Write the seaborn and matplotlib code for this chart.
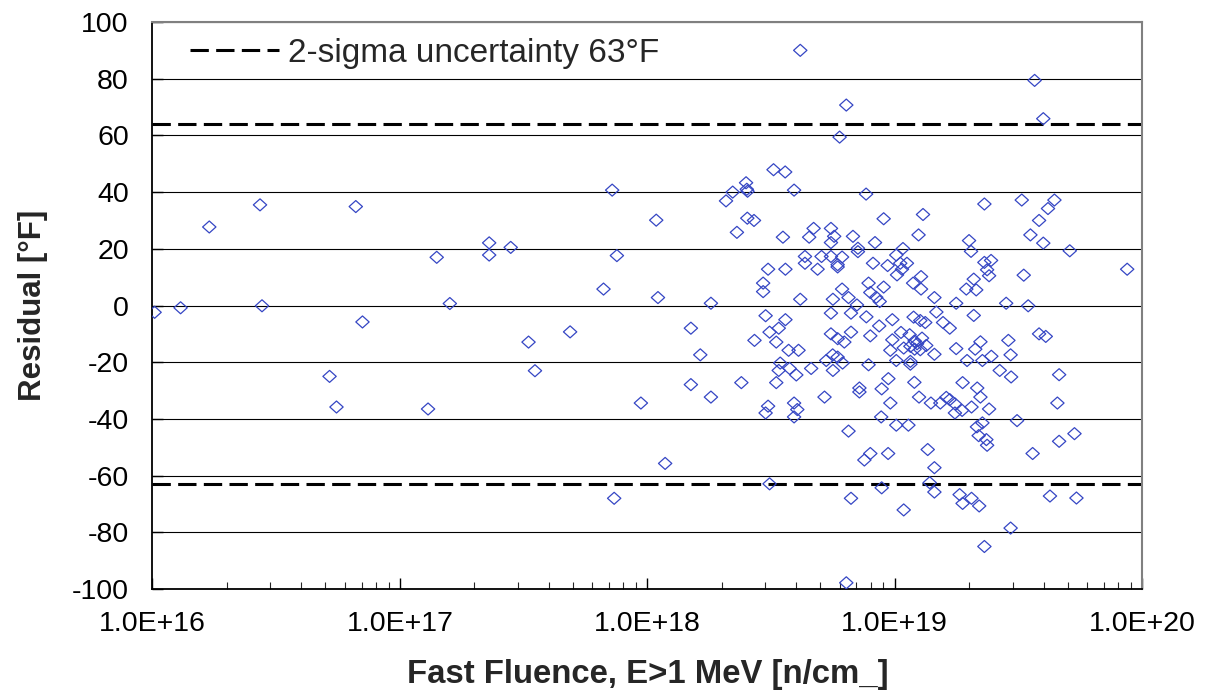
import numpy as np
import pandas as pd
import matplotlib
matplotlib.use("Agg")
import matplotlib.pyplot as plt
from matplotlib.path import Path
from matplotlib.markers import MarkerStyle
from matplotlib.ticker import FixedLocator, LogLocator, NullFormatter, FuncFormatter
from matplotlib.lines import Line2D
import seaborn as sns

# ---- data: log10 of fast fluence (n/cm^2) and residual (degF) ----
log10_fluence = [
    16.009, 16.114, 16.230, 16.435, 16.443, 16.822, 16.849, 16.716, 16.744, 17.149,
    17.202, 17.114, 17.361, 17.361, 17.448, 17.520, 17.546, 17.688, 17.823,
    18.618, 18.804, 18.777, 18.510, 18.557, 17.858, 18.593, 18.399, 18.345, 18.318,
    18.402, 18.405, 18.036, 18.404, 18.431, 18.362, 18.548, 18.672, 18.654, 18.742,
    18.755, 18.742, 18.831, 18.851, 18.851, 17.877, 18.488, 18.558, 18.637, 18.637,
    18.704, 18.688, 18.742, 18.787, 18.769, 18.769, 18.043, 18.257, 18.468, 18.468,
    18.618, 18.787, 18.750, 18.813, 18.847, 18.478, 18.558, 18.742, 18.823,
    18.176, 18.494, 18.531, 18.433, 18.521, 18.571, 18.611, 18.742, 18.823, 18.769,
    18.796, 18.214, 18.749, 18.769, 18.723, 18.789, 18.537, 18.531, 18.575, 18.602,
    18.662, 18.750, 18.176, 18.380, 18.521, 18.257, 17.974, 18.716, 18.857, 18.857,
    18.488, 18.478, 18.593, 18.606, 18.593, 18.813, 18.072, 18.494, 17.866, 18.823,
    18.804,
    19.565, 19.600, 18.884, 19.362, 19.513, 19.645, 19.619, 19.583, 18.955, 19.114,
    19.096, 18.920, 19.548, 19.600, 19.707, 19.300, 19.308, 19.033, 19.006, 18.912,
    18.971, 19.022, 19.049, 19.009, 19.029, 19.362, 19.389, 19.373, 19.381, 19.521,
    19.939, 18.894, 18.955, 18.901, 18.939, 18.925, 19.074, 19.106, 19.106, 19.160,
    19.248, 19.319, 19.289, 19.329, 19.450, 19.539, 18.885,
    18.990, 19.076, 19.103, 19.168, 19.195, 19.222, 19.123, 19.319, 18.937, 18.901,
    18.990, 19.025, 19.060, 19.080, 19.090, 19.110, 18.982, 19.036, 19.063, 19.080,
    19.103, 19.127, 19.160, 19.006, 19.063, 19.063, 18.894, 19.248, 19.292, 19.325,
    19.346, 19.354, 19.390, 19.459, 19.468, 19.583, 19.610, 19.424, 19.470, 19.664,
    18.974, 18.947, 19.079, 19.098, 18.982, 18.945, 19.006, 19.055, 19.146, 19.184,
    19.208, 19.222, 19.243, 19.243, 19.272, 19.274, 19.310, 19.333, 19.346, 19.381,
    19.494, 19.657, 19.332, 19.354, 19.339, 19.370, 19.373, 19.133, 19.160, 18.901,
    18.877, 18.973, 19.557, 19.664, 19.726, 18.947, 19.141, 19.160, 19.036, 19.262,
    19.274, 19.310, 19.341, 19.468, 19.362, 19.627, 19.734,
]
residual_F = [
    -2.4, -0.8, 27.7, 35.5, -0.1, 34.9, -5.8, -25.0, -35.8, 17.0,
    0.7, -36.5, 22.1, 17.8, 20.5, -12.9, -23.0, -9.3, 5.8,
    90.0, 70.7, 59.4, 47.9, 47.1, 40.7, 40.7, 43.3, 40.0, 36.9,
    41.0, 40.3, 30.1, 30.8, 30.0, 25.8, 24.1, 27.2, 24.1, 27.2,
    24.4, 22.2, 24.4, 20.2, 19.0, 17.6, 12.8, 12.8, 17.3, 14.9,
    17.3, 12.8, 17.3, 17.1, 14.4, 13.6, 2.8, 0.8, 7.9, 4.9,
    2.2, 5.8, 2.2, 2.8, 0.2, -3.6, -5.0, -2.7, -2.7,
    -8.0, -9.4, -8.0, -12.3, -12.9, -15.8, -15.8, -10.0, -9.4, -11.7,
    -12.9, -17.4, -17.4, -18.2, -19.4, -20.3, -20.3, -22.9, -22.2, -24.5,
    -22.2, -22.9, -27.9, -27.2, -27.2, -32.3, -34.4, -32.3, -29.1, -30.5,
    -35.5, -37.9, -34.4, -36.7, -39.3, -44.3, -55.7, -62.9, -68.0, -68.0,
    -97.8,
    79.4, 65.9, 39.3, 35.8, 37.2, 37.2, 34.2, 30.0, 30.6, 32.1,
    24.9, 22.2, 24.9, 22.0, 19.3, 22.9, 19.1, 20.1, 17.8, 14.9,
    14.1, 14.9, 14.9, 10.8, 12.8, 15.2, 15.9, 12.6, 10.5, 10.7,
    12.8, 7.9, 6.5, 4.6, 1.4, 2.9, 7.9, 10.2, 5.8, 2.8,
    0.8, 9.3, 5.8, 5.5, 0.8, -0.1, -4.0,
    -5.0, -4.1, -5.3, -2.3, -6.0, -8.0, -6.0, -3.5, -7.2, -10.7,
    -12.1, -9.5, -10.3, -12.5, -13.5, -11.5, -15.8, -15.0, -14.4, -15.4,
    -15.6, -14.1, -17.2, -19.4, -19.7, -20.7, -20.9, -15.2, -19.4, -15.4,
    -12.8, -19.4, -17.9, -12.3, -17.4, -10.0, -10.9, -22.9, -25.2, -24.4,
    -25.8, -29.4, -27.1, -32.3, -34.4, -39.3, -42.2, -42.2, -34.4, -34.4,
    -32.4, -33.2, -34.7, -37.9, -37.0, -27.2, -35.8, -29.1, -32.3, -36.5,
    -40.6, -34.4, -42.8, -41.4, -45.9, -47.3, -49.3, -50.8, -57.2, -52.2,
    -54.5, -52.2, -52.2, -47.9, -45.2, -64.3, -62.5, -65.8, -72.1, -66.7,
    -69.8, -68.0, -70.7, -78.5, -85.0, -67.2, -67.9,
]
upper_limit = 64.0
lower_limit = -63.0
legend_label = "2-sigma uncertainty 63°F"
x_ticks = [1e16, 1e17, 1e18, 1e19, 1e20]
x_tick_labels = ["1.0E+16", "1.0E+17", "1.0E+18", "1.0E+19", "1.0E+20"]
y_ticks = [-100, -80, -60, -40, -20, 0, 20, 40, 60, 80, 100]

df = pd.DataFrame({"fluence": 10 ** np.array(log10_fluence), "residual": residual_F})

# ---- style ----
sns.set_theme(style="white")
plt.rcParams["font.family"] = ["Liberation Sans", "DejaVu Sans"]
plt.rcParams["axes.unicode_minus"] = False

fig = plt.figure(figsize=(12.17, 6.96), dpi=100)
ax = fig.add_axes([0.1252, 0.1537, 0.8134, 0.8147])

ax.set_xscale("log")
ax.set_xlim(1e16, 1e20)
ax.set_ylim(-100, 100)

# horizontal gridlines
for yv in y_ticks:
    ax.axhline(yv, color="black", lw=0.8, zorder=1)

diamond = Path([(-1, 0), (0, 0.9), (1, 0), (0, -0.9), (-1, 0)], closed=True)
sns.scatterplot(data=df, x="fluence", y="residual", ax=ax,
                marker=MarkerStyle(diamond), s=92, facecolor="none",
                edgecolor="#3546C4", linewidth=0.9, zorder=3, legend=False)

dash_style = (0, (6, 2.4))
ax.axhline(upper_limit, color="black", lw=2.2, ls=dash_style, zorder=2)
ax.axhline(lower_limit, color="black", lw=2.2, ls=dash_style, zorder=2)

# ticks
ax.xaxis.set_major_locator(FixedLocator(x_ticks))
ax.xaxis.set_major_formatter(FuncFormatter(lambda v, p: x_tick_labels[x_ticks.index(v)] if v in x_ticks else ""))
ax.xaxis.set_minor_locator(LogLocator(base=10, subs=np.arange(2, 10)))
ax.xaxis.set_minor_formatter(NullFormatter())
ax.set_yticks(y_ticks)
ax.tick_params(axis="x", which="major", direction="in", length=8, width=1.0,
               labelsize=20.5, pad=16, bottom=True, colors="black")
ax.tick_params(axis="x", which="minor", direction="in", length=5, width=0.8, bottom=True)
ax.tick_params(axis="y", which="major", direction="in", length=8, width=1.0,
               labelsize=20.5, pad=17, left=True, colors="black")

for side in ["top", "right"]:
    ax.spines[side].set_color("#808080")
    ax.spines[side].set_linewidth(1.5)
for side in ["left", "bottom"]:
    ax.spines[side].set_color("black")
    ax.spines[side].set_linewidth(1.3)

ax.set_xlabel("Fast Fluence, E>1 MeV [n/cm_]", fontsize=23.7, fontweight="bold", labelpad=16)
ax.set_ylabel("Residual [°F]", fontsize=22.5, fontweight="bold", labelpad=17)

handle = Line2D([0], [0], color="black", lw=2.2, ls=dash_style)
leg = ax.legend([handle], [legend_label], loc="center left", frameon=False,
                fontsize=24, handlelength=2.67, handletextpad=0.25,
                borderpad=0, bbox_to_anchor=(0.0384, 0.9453), borderaxespad=0)

fig.savefig("out.png", dpi=100, facecolor="white")
